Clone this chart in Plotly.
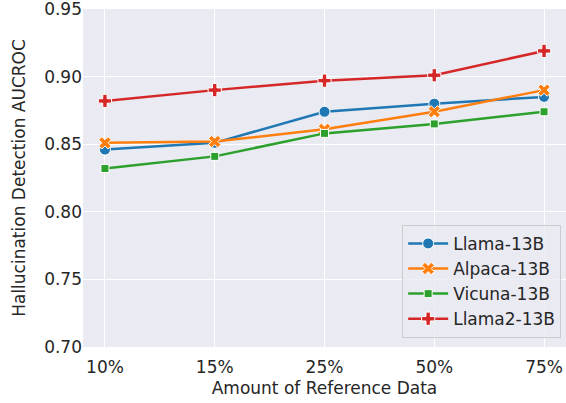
import plotly.graph_objects as go

categories = ["10%", "15%", "25%", "50%", "75%"]
llama = [0.846, 0.851, 0.874, 0.880, 0.885]
alpaca = [0.851, 0.852, 0.861, 0.874, 0.890]
vicuna = [0.832, 0.841, 0.858, 0.865, 0.874]
llama2 = [0.882, 0.890, 0.897, 0.901, 0.919]
y_ticks = [0.70, 0.75, 0.80, 0.85, 0.90, 0.95]

series = [
    ("Llama-13B", llama, "#1f77b4", "circle", 11),
    ("Alpaca-13B", alpaca, "#ff7f0e", "x", 11),
    ("Vicuna-13B", vicuna, "#2ca02c", "square", 8),
    ("Llama2-13B", llama2, "#d62728", "cross", 11),
]

fig = go.Figure()
for name, vals, color, sym, size in series:
    fig.add_trace(go.Scatter(
        x=list(range(len(categories))), y=vals, name=name, mode="lines+markers",
        line=dict(color=color, width=2.5),
        marker=dict(symbol=sym, size=size, color=color, line=dict(color="white", width=1)),
    ))

font = "DejaVu Sans"
fig.update_layout(
    width=566, height=403,
    margin=dict(l=83, r=0, t=9, b=56),
    paper_bgcolor="white", plot_bgcolor="#EAEAF2",
    font=dict(family=font, size=17, color="#262626"),
    showlegend=True,
    legend=dict(x=0.99, y=0.027, xanchor="right", yanchor="bottom",
                bgcolor="rgba(234,234,242,0.8)", bordercolor="#CCCCCC", borderwidth=1,
                font=dict(size=17, color="#262626"), tracegroupgap=0, itemwidth=40),
    xaxis=dict(tickmode="array", tickvals=list(range(len(categories))), ticktext=categories,
               range=[-0.2, 4.2], showgrid=True, gridcolor="white", gridwidth=1.2,
               zeroline=False, showline=False, ticks="", ticklabelstandoff=8,
               title=dict(text="Amount of Reference Data", font=dict(size=17), standoff=6)),
    yaxis=dict(tickmode="array", tickvals=y_ticks, ticktext=[f"{v:.2f}" for v in y_ticks],
               range=[0.70, 0.95], showgrid=True, gridcolor="white", gridwidth=1.2,
               zeroline=False, showline=False, ticks="", ticklen=0,
               ticklabeloverflow="allow",
               title=dict(text="Hallucination Detection AUCROC", font=dict(size=17), standoff=14)),
)
fig.write_html("out.html", config={"displayModeBar": False},
               post_script="document.body.style.margin='0';")
